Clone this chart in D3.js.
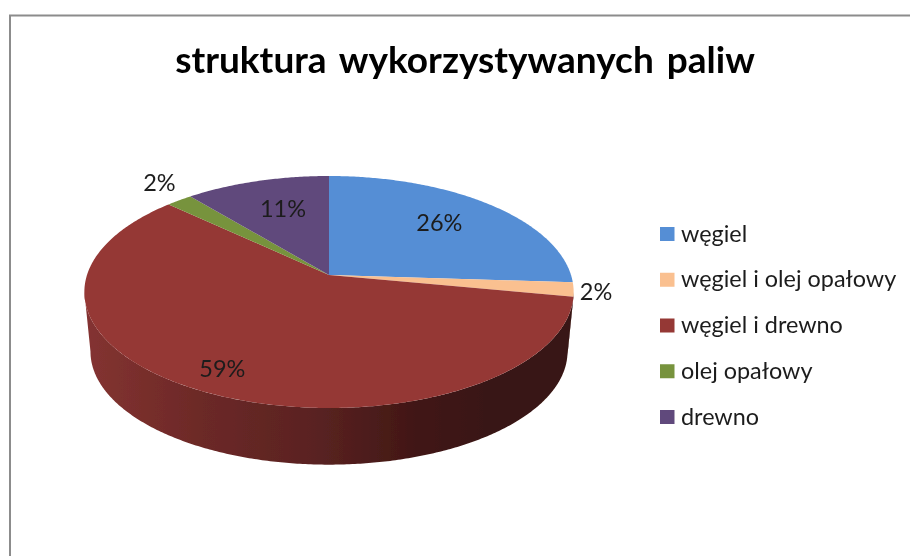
<!DOCTYPE html>
<html lang="pl">
<head>
<meta charset="UTF-8">
<title>struktura wykorzystywanych paliw</title>
<script src="https://d3js.org/d3.v7.min.js"></script>
<style>
  html, body { margin: 0; padding: 0; background: #fff; }
  svg { display: block; }
  text { font-family: Lato, "Open Sans", sans-serif; fill: #1c1c1c; }
</style>
</head>
<body>
<svg id="chart" width="910" height="556"></svg>
<script>
// data
var categories = ["węgiel", "węgiel i olej opałowy", "węgiel i drewno", "olej opałowy", "drewno"];
var shares = [26, 2, 59, 2, 11];
var sliceColors = ["#558ed5", "#fac090", "#953735", "#77933c", "#604a7b"];

// where each percent label sits: fraction of the radius, plus a small nudge
var labelRadius = [0.68, 1.09, 0.84, 1.18, 0.68];
var labelNudge = [[-2, -3], [0, 1], [-3, -2], [4, -6], [5, 0]];

var svg = d3.select("#chart");
var blur = svg.append("defs").append("filter").attr("id", "soft");
blur.append("feGaussianBlur").attr("stdDeviation", 0.45);

var root = svg.append("g").attr("filter", "url(#soft)");

// frame: only the top and left edges are in the crop
root.append("path")
    .attr("d", "M10,556V15.5H910")
    .attr("fill", "none")
    .attr("stroke", "#8c8c8c")
    .attr("stroke-width", 2);

root.append("text")
    .attr("x", 465)
    .attr("y", 73)
    .attr("text-anchor", "middle")
    .attr("font-size", 37)
    .attr("font-weight", 700)
    .attr("word-spacing", 4)
    .style("fill", "#000")
    .text("struktura wykorzystywanych paliw");

// perspective of the tilted disc: the apex is not the middle of the ellipse
var cx = 329, cy = 275;
var radiusX = 242, radiusY = 113.5, tilt = 0.1465;
var depthY = 60, depthScale = 0.975;

function project(angle, r, lower) {
  var u = Math.sin(angle) * r, v = Math.cos(angle) * r;
  var w = 1 + tilt * v;
  var s = lower ? depthScale : 1;
  return [cx + s * radiusX * u / w, cy + (lower ? depthY : 0) - s * radiusY * v / w];
}

function rim(a0, a1, lower) {
  var n = Math.max(2, Math.ceil(Math.abs(a1 - a0) / 0.01));
  return d3.range(n + 1).map(function(i) {
    return project(a0 + (a1 - a0) * i / n, 1, lower);
  });
}

var line = d3.line();
var arcs = d3.pie().sort(null)(shares);

// the wall is only visible between the two silhouette angles
var wallStart = Math.acos(-tilt), wallEnd = 2 * Math.PI - wallStart;

var wallGradient = svg.select("defs").append("linearGradient")
    .attr("id", "wall")
    .attr("gradientUnits", "userSpaceOnUse")
    .attr("x1", 84).attr("x2", 573).attr("y1", 0).attr("y2", 0);
[[0, "#843331"], [0.24, "#6c2927"], [0.48, "#592221"], [0.68, "#411715"], [0.82, "#391512"], [1, "#391512"]]
  .forEach(function(s) {
    wallGradient.append("stop").attr("offset", s[0]).attr("stop-color", s[1]);
  });

root.append("g").selectAll("path")
  .data(arcs.filter(function(d) { return d.endAngle > wallStart && d.startAngle < wallEnd; }))
  .enter().append("path")
    .attr("d", function(d) {
      var a0 = Math.max(d.startAngle, wallStart), a1 = Math.min(d.endAngle, wallEnd);
      return line(rim(a0, a1, false).concat(rim(a1, a0, true))) + "Z";
    })
    .attr("fill", "url(#wall)");

root.append("g").selectAll("path")
  .data(arcs)
  .enter().append("path")
    .attr("d", function(d) {
      return line([project(0, 0, false)].concat(rim(d.startAngle, d.endAngle, false))) + "Z";
    })
    .attr("fill", function(d, i) { return sliceColors[i]; });

root.append("g").selectAll("text")
  .data(arcs)
  .enter().append("text")
    .attr("transform", function(d, i) {
      var p = project((d.startAngle + d.endAngle) / 2, labelRadius[i], false);
      return "translate(" + (p[0] + labelNudge[i][0]) + "," + (p[1] + labelNudge[i][1]) + ")";
    })
    .attr("text-anchor", "middle")
    .attr("dy", "0.35em")
    .attr("font-size", 23.5)
    .text(function(d) { return d.data + "%"; });

// legend
var legendY = d3.scalePoint().domain(categories).range([234, 417]);

var legend = root.append("g").selectAll("g")
  .data(categories)
  .enter().append("g")
    .attr("transform", function(d) { return "translate(660," + legendY(d) + ")"; });

legend.append("rect")
    .attr("y", -7)
    .attr("width", 14.5)
    .attr("height", 14)
    .attr("fill", function(d, i) { return sliceColors[i]; });

legend.append("text")
    .attr("x", 21)
    .attr("dy", "0.33em")
    .attr("font-size", 23.4)
    .text(function(d) { return d; });
</script>
</body>
</html>
